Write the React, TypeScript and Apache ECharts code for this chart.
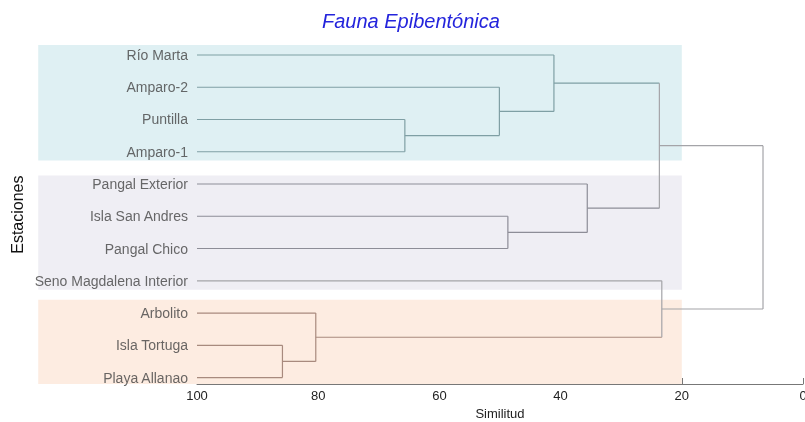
import React, { useEffect, useRef } from "react";
import * as echarts from "echarts";

// Estaciones (hojas del dendrograma, de arriba a abajo)
const stations = [
  "Río Marta",
  "Amparo-2",
  "Puntilla",
  "Amparo-1",
  "Pangal Exterior",
  "Isla San Andres",
  "Pangal Chico",
  "Seno Magdalena Interior",
  "Arbolito",
  "Isla Tortuga",
  "Playa Allanao",
];
// Grupo de color de cada hoja
const leafGroups = ["azul", "azul", "azul", "azul", "lila", "lila", "lila", "gris", "cafe", "cafe", "cafe"];

// Uniones: nodos 0-10 son hojas, 11+ son uniones en orden
const mergeA = [2, 1, 0, 5, 4, 13, 9, 8, 7, 16];
const mergeB = [3, 11, 12, 6, 14, 15, 10, 17, 18, 19];
const mergeSim = [65.7, 50.1, 41.1, 48.7, 35.6, 23.7, 85.9, 80.4, 23.3, 6.6];
const mergeGroups = ["azul", "azul", "azul", "lila", "lila", "gris", "cafe", "cafe", "gris", "gris"];

// Bandas de fondo (en unidades de fila)
const bandFrom = [-0.31, 3.74, 7.59];
const bandTo = [3.27, 7.28, 10.2];
const bandColors = ["#dff0f3", "#efeef4", "#fdece1"];
const bandLeft = 126.2;
const bandRight = 20;

// Ticks del eje X
const xTicks = [100, 80, 60, 40, 20, 0];

const groupColors: Record<string, string> = {
  azul: "#7f9fa4",
  lila: "#8d8d97",
  cafe: "#a88a7e",
  gris: "#a4a4a8",
};

function buildSegments() {
  const nodeX: number[] = stations.map(() => 100);
  const nodeY: number[] = stations.map((_, i) => i);
  const nodeG: string[] = [...leafGroups];
  const segs: any[] = [];
  mergeSim.forEach((s, k) => {
    const a = mergeA[k];
    const b = mergeB[k];
    const g = mergeGroups[k];
    segs.push({ value: [nodeX[a], nodeY[a], s, nodeY[a]], color: groupColors[nodeG[a]] });
    segs.push({ value: [nodeX[b], nodeY[b], s, nodeY[b]], color: groupColors[nodeG[b]] });
    segs.push({ value: [s, nodeY[a], s, nodeY[b]], color: groupColors[g] });
    nodeX.push(s);
    nodeY.push((nodeY[a] + nodeY[b]) / 2);
    nodeG.push(g);
  });
  return segs;
}

export default function App() {
  const ref = useRef<HTMLDivElement>(null);
  useEffect(() => {
    if (!ref.current) return;
    const chart = echarts.init(ref.current, undefined, { renderer: "svg" });
    const segs = buildSegments();
    const font = "Liberation Sans, Arial, sans-serif";
    chart.setOption({
      animation: false,
      textStyle: { fontFamily: font },
      title: {
        text: "Fauna Epibentónica",
        left: 317,
        top: 6,
        textStyle: { color: "#2424dc", fontStyle: "italic", fontWeight: "normal", fontSize: 20, fontFamily: font },
      },
      grid: { left: 197, right: 2, top: 45.3, bottom: 38, outerBoundsMode: "none", containLabel: false },
      xAxis: {
        type: "value",
        min: 0,
        max: 100,
        interval: 20,
        inverse: true,
        axisLine: { show: true, onZero: false, lineStyle: { color: "#777", width: 1 } },
        axisTick: { show: true, inside: true, length: 6, lineStyle: { color: "#777" } },
        axisLabel: { color: "#222", fontSize: 13, margin: 5, fontFamily: font, formatter: (v: number) => (xTicks.includes(v) ? String(v) : "") },
        splitLine: { show: false },
        name: "Similitud",
        nameLocation: "middle",
        nameGap: 23,
        nameTextStyle: { color: "#222", fontSize: 13, fontFamily: font },
      },
      yAxis: {
        type: "value",
        inverse: true,
        min: -0.3,
        max: 10.2,
        axisLine: { show: false, onZero: false },
        axisTick: { show: false },
        axisLabel: { show: false },
        splitLine: { show: false },
        name: "Estaciones",
        nameLocation: "middle",
        nameRotate: 90,
        nameGap: 172,
        nameTextStyle: { color: "#111", fontSize: 16, fontFamily: font },
      },
      series: [
        {
          type: "custom",
          clip: false,
          silent: true,
          z: 1,
          data: bandFrom.map((f, i) => ({ value: [f, bandTo[i]], color: bandColors[i] })),
          renderItem: (params: any, api: any) => {
            const p1 = api.coord([bandLeft, api.value(0)]);
            const p2 = api.coord([bandRight, api.value(1)]);
            return {
              type: "rect",
              shape: { x: p1[0], y: p1[1], width: p2[0] - p1[0], height: p2[1] - p1[1] },
              style: { fill: bandColors[params.dataIndex] },
            };
          },
        },
        {
          type: "custom",
          clip: false,
          silent: true,
          z: 3,
          data: segs,
          renderItem: (params: any, api: any) => {
            const p1 = api.coord([api.value(0), api.value(1)]);
            const p2 = api.coord([api.value(2), api.value(3)]);
            return {
              type: "line",
              shape: { x1: p1[0], y1: p1[1], x2: p2[0], y2: p2[1] },
              style: { stroke: segs[params.dataIndex].color, lineWidth: 1.2 },
            };
          },
        },
        {
          type: "scatter",
          silent: true,
          z: 4,
          symbolSize: 0,
          data: stations.map((s, i) => ({ name: s, value: [100, i] })),
          label: {
            show: true,
            position: "left",
            distance: 9,
            formatter: (p: any) => p.name,
            color: "#444",
            fontSize: 14,
            fontFamily: font,
          },
        },
      ],
    });
    return () => chart.dispose();
  }, []);
  return <div ref={ref} style={{ position: "fixed", left: 0, top: 0, width: 805, height: 422 }} />;
}
